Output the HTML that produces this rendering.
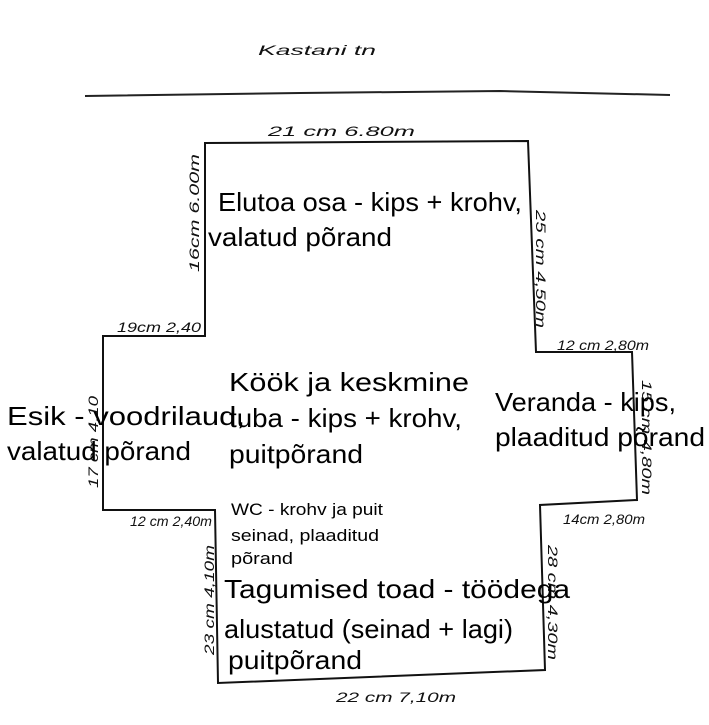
<!DOCTYPE html>
<html><head><meta charset="utf-8"><style>
html,body{margin:0;padding:0;background:#fff;}
svg{display:block;}
.t{font-family:"Liberation Sans",sans-serif;font-size:26px;fill:#000;}
.s{font-family:"Liberation Sans",sans-serif;font-size:17px;fill:#000;}
.h{font-family:"Liberation Sans",sans-serif;font-style:italic;font-size:14px;fill:#111;}
</style></head><body>
<svg width="709" height="725" viewBox="0 0 709 725" xmlns="http://www.w3.org/2000/svg">
<rect width="709" height="725" fill="#fff"/>
<text x="258" y="55" class="h" font-size="28" textLength="118" lengthAdjust="spacingAndGlyphs">Kastani tn</text>
<path d="M85 96 L300 93 L500 91 L670 95" stroke="#222" stroke-width="2" fill="none"/>
<path d="M205 143 L528 141 L536 352 L632 352 L637 500 L540 505 L545 670 L218 683 L215 510 L103 510 L103 336 L205 336 Z" stroke="#111" stroke-width="2" fill="none"/>
<text x="268" y="136" class="h" font-size="20" textLength="147" lengthAdjust="spacingAndGlyphs">21 cm  6.80m</text>
<text transform="translate(199,272) rotate(-90)" class="h" font-size="18" textLength="118" lengthAdjust="spacingAndGlyphs">16cm  6.00m</text>
<text transform="translate(536,210) rotate(90)" class="h" font-size="18" textLength="118" lengthAdjust="spacingAndGlyphs">25 cm  4,50m</text>
<text x="117" y="332" class="h" textLength="84" lengthAdjust="spacingAndGlyphs">19cm 2,40</text>
<text x="557" y="350" class="h" textLength="92" lengthAdjust="spacingAndGlyphs">12 cm 2,80m</text>
<text transform="translate(98,488) rotate(-90)" class="h" textLength="92" lengthAdjust="spacingAndGlyphs">17 cm 4,10</text>
<text transform="translate(642,380) rotate(90)" class="h" textLength="115" lengthAdjust="spacingAndGlyphs">15 cm  4,80m</text>
<text x="130" y="526" class="h" textLength="82" lengthAdjust="spacingAndGlyphs">12 cm 2,40m</text>
<text x="563" y="524" class="h" textLength="82" lengthAdjust="spacingAndGlyphs">14cm 2,80m</text>
<text transform="translate(214,655) rotate(-90)" class="h" font-size="16" textLength="110" lengthAdjust="spacingAndGlyphs">23 cm  4,10m</text>
<text transform="translate(548,545) rotate(90)" class="h" font-size="16" textLength="115" lengthAdjust="spacingAndGlyphs">28 cm  4,30m</text>
<text x="336" y="702" class="h" font-size="19" textLength="120" lengthAdjust="spacingAndGlyphs">22 cm  7,10m</text>
<text x="218" y="211" class="t" textLength="304" lengthAdjust="spacingAndGlyphs">Elutoa osa - kips + krohv,</text>
<text x="208" y="246" class="t" textLength="184" lengthAdjust="spacingAndGlyphs">valatud põrand</text>
<text x="229" y="391" class="t" textLength="240" lengthAdjust="spacingAndGlyphs">Köök ja keskmine</text>
<text x="229" y="427" class="t" textLength="233" lengthAdjust="spacingAndGlyphs">tuba - kips + krohv,</text>
<text x="229" y="463" class="t" textLength="134" lengthAdjust="spacingAndGlyphs">puitpõrand</text>
<text x="7" y="425" class="t" textLength="238" lengthAdjust="spacingAndGlyphs">Esik - voodrilaud,</text>
<text x="7" y="460" class="t" textLength="184" lengthAdjust="spacingAndGlyphs">valatud põrand</text>
<text x="495" y="411" class="t" textLength="181" lengthAdjust="spacingAndGlyphs">Veranda - kips,</text>
<text x="495" y="446" class="t" textLength="210" lengthAdjust="spacingAndGlyphs">plaaditud põrand</text>
<text x="231" y="515" class="s" textLength="152" lengthAdjust="spacingAndGlyphs">WC - krohv ja puit</text>
<text x="231" y="541" class="s" textLength="148" lengthAdjust="spacingAndGlyphs">seinad, plaaditud</text>
<text x="231" y="564" class="s" textLength="62" lengthAdjust="spacingAndGlyphs">põrand</text>
<text x="224" y="598" class="t" textLength="346" lengthAdjust="spacingAndGlyphs">Tagumised toad - töödega</text>
<text x="224" y="638" class="t" textLength="289" lengthAdjust="spacingAndGlyphs">alustatud (seinad + lagi)</text>
<text x="228" y="669" class="t" textLength="134" lengthAdjust="spacingAndGlyphs">puitpõrand</text>
</svg>
</body></html>
